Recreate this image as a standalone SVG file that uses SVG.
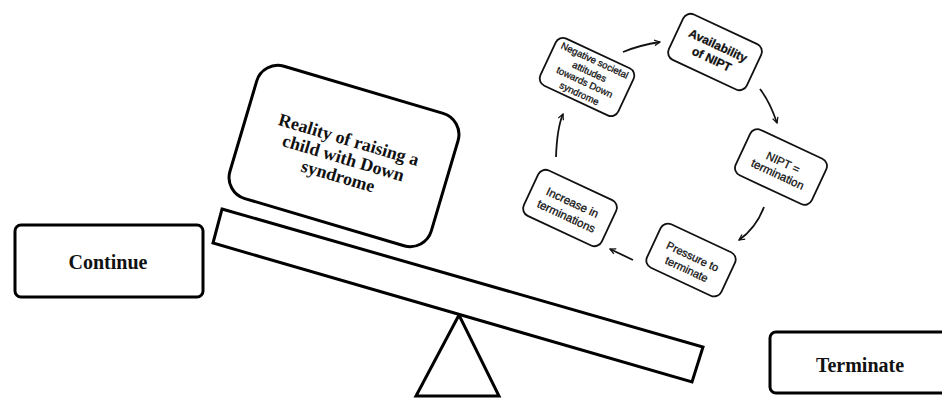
<svg xmlns="http://www.w3.org/2000/svg" width="942" height="399" viewBox="0 0 942 399">
<defs>
<style>
.big{fill:#fff;stroke:#000;stroke-width:3}
.sm{fill:#fff;stroke:#111;stroke-width:1.8}
.serif{font-family:"Liberation Serif","Times New Roman",serif;font-weight:bold;fill:#111;text-anchor:middle}
.sans{font-family:"Liberation Sans",Arial,sans-serif;fill:#111;stroke:#111;stroke-width:0.3;text-anchor:middle}
.conn{fill:none;stroke:#111;stroke-width:1.8;marker-end:url(#ah)}
</style>
<marker id="ah" viewBox="0 0 10 10" refX="9" refY="5" markerWidth="7" markerHeight="7" orient="auto" markerUnits="userSpaceOnUse">
<path d="M1,1 L9,5 L1,9" fill="none" stroke="#111" stroke-width="1.8"/>
</marker>
</defs>
<rect width="942" height="399" fill="#fff"/>

<g id="fulcrum">
<polygon points="459,315 416,396 499,396" class="big"/>
</g>
<g id="beam">
<polygon points="222,209 703,347 692,382 213,243" class="big"/>
</g>

<g id="reality" transform="translate(344,156) rotate(16.5)">
<rect x="-105" y="-69" width="210" height="138" rx="22" class="big"/>
<text class="serif" font-size="18"><tspan x="0" y="-11">Reality of raising a</tspan><tspan x="0" y="8">child with Down</tspan><tspan x="0" y="27">syndrome</tspan></text>
</g>

<g id="continue">
<rect x="15" y="225" width="188" height="72" rx="6" class="big"/>
<text x="108" y="269" class="serif" font-size="20">Continue</text>
</g>

<g id="terminate">
<rect x="770" y="332" width="185" height="61" rx="6" class="big"/>
<text x="860" y="372" class="serif" font-size="20">Terminate</text>
</g>

<g id="availability" transform="translate(715,52) rotate(25)">
<rect x="-43" y="-25" width="86" height="50" rx="8" class="sm"/>
<text class="sans" font-size="12" font-weight="bold"><tspan x="0" y="-3">Availability</tspan><tspan x="0" y="12">of NIPT</tspan></text>
</g>

<g id="negative" transform="translate(587,77) rotate(25)">
<rect x="-43" y="-26" width="86" height="52" rx="8" class="sm"/>
<text class="sans" font-size="9.6"><tspan x="0" y="-15">Negative societal</tspan><tspan x="0" y="-2.5">attitudes</tspan><tspan x="0" y="9">towards Down</tspan><tspan x="0" y="21.5">syndrome</tspan></text>
</g>

<g id="nipt" transform="translate(781,167) rotate(25)">
<rect x="-42" y="-25" width="84" height="50" rx="8" class="sm"/>
<text class="sans" font-size="11.5"><tspan x="0" y="-1">NIPT =</tspan><tspan x="0" y="12">termination</tspan></text>
</g>

<g id="pressure" transform="translate(691,260) rotate(25)">
<rect x="-41" y="-24" width="82" height="48" rx="8" class="sm"/>
<text class="sans" font-size="11"><tspan x="0" y="0">Pressure to</tspan><tspan x="0" y="14">terminate</tspan></text>
</g>

<g id="increase" transform="translate(570,208) rotate(25)">
<rect x="-43" y="-25" width="86" height="50" rx="8" class="sm"/>
<text class="sans" font-size="11.5"><tspan x="0" y="-2">Increase in</tspan><tspan x="0" y="13">terminations</tspan></text>
</g>

<g id="connectors">
<path class="conn" d="M556,157 Q557,128 563,114"/>
<path class="conn" d="M623,52 Q640,45 660,42"/>
<path class="conn" d="M760,89 Q770,102 777,123"/>
<path class="conn" d="M764,207 Q756,228 739,240"/>
<path class="conn" d="M633,260 L610,249"/>
</g>
</svg>
